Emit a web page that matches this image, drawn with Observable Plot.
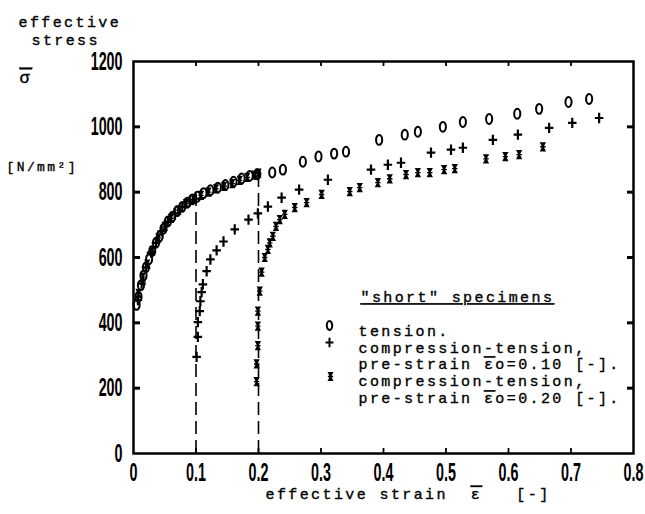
<!DOCTYPE html>
<html>
<head>
<meta charset="utf-8">
<script src="https://cdn.jsdelivr.net/npm/d3@7"></script>
<script src="https://cdn.jsdelivr.net/npm/@observablehq/plot@0.6"></script>
<style>
  html, body { margin: 0; padding: 0; background: #fff; }
  #chart svg { display: block; overflow: visible; }
  #chart svg g[aria-label="text"] text { letter-spacing: 2.4px; stroke: black; stroke-width: 0.35px; }
</style>
</head>
<body>
<div id="chart"></div>
<script>
// ---- tick values and labels ----
const xTickValues = [0, 0.1, 0.2, 0.3, 0.4, 0.5, 0.6, 0.7, 0.8];
const xTickLabels = ["0", "0.1", "0.2", "0.3", "0.4", "0.5", "0.6", "0.7", "0.8"];
const yTickValues = [0, 200, 400, 600, 800, 1000, 1200];
const yTickLabels = ["0", "200", "400", "600", "800", "1000", "1200"];

// ---- series: tension (circles) ----
const tensionStrain = [0.005,0.008,0.012,0.016,0.02,0.025,0.03,0.036,0.042,0.048,0.055,0.062,0.07,0.078,0.086,0.094,0.102,0.112,0.123,0.135,0.147,0.16,0.173,0.186,0.198,0.222,0.239,0.271,0.296,0.321,0.34,0.393,0.434,0.455,0.495,0.527,0.569,0.614,0.649,0.696,0.729];
const tensionStress = [455,480,515,545,570,595,620,645,665,688,710,725,742,755,768,778,786,797,806,814,822,832,842,850,855,860,869,893,909,918,924,960,976,985,1000,1015,1024,1040,1055,1076,1085];

// ---- series: compression-tension, pre-strain 0.10 (plus) ----
const pre10Strain = [0.007,0.013,0.02,0.028,0.036,0.045,0.055,0.066,0.078,0.09,0.1,
  0.101,0.103,0.103,0.106,0.107,0.109,0.111,0.117,0.123,0.133,0.144,0.162,0.184,0.199,0.215,0.237,0.265,0.311,0.38,0.407,0.428,0.476,0.508,0.527,0.575,0.615,0.665,0.702,0.745];
const pre10Stress = [470,520,570,615,645,680,710,735,755,772,780,
  296,357,402,436,466,494,518,558,594,622,649,686,716,735,756,783,808,838,869,884,890,921,930,936,960,976,997,1012,1027];

// ---- series: compression-tension, pre-strain 0.20 (asterisk) ----
const pre20Strain = [0.008,0.015,0.022,0.03,0.04,0.05,0.06,0.072,0.084,0.096,0.108,0.12,0.132,0.145,0.158,0.17,0.182,0.194,0.2,
  0.197,0.197,0.199,0.199,0.199,0.202,0.205,0.21,0.215,0.218,0.223,0.228,0.234,0.242,0.258,0.277,0.301,0.346,0.362,0.391,0.41,0.436,0.455,0.474,0.497,0.514,0.564,0.595,0.617,0.655];
const pre20Stress = [490,540,580,620,660,695,720,745,765,778,790,800,810,818,826,836,845,852,858,
  220,274,330,390,436,497,555,600,625,645,665,695,716,732,753,768,793,802,814,829,841,854,860,860,869,872,902,909,915,939];

// ---- dashed pre-strain markers ----
const dashStrain = [0.1, 0.2];
const dashTop = [770, 845];

// ---- legend texts ----
const legendTitle = "\"short\" specimens";
const legendLines = [
  "tension.",
  "compression-tension,",
  "pre-strain \u03B5\u0304o=0.10 [-].",
  "compression-tension,",
  "pre-strain \u03B5\u0304o=0.20 [-]."
];

const tension = tensionStrain.map((e, i) => ({e, s: tensionStress[i]}));
const pre10 = pre10Strain.map((e, i) => ({e, s: pre10Stress[i]}));
const pre20 = pre20Strain.map((e, i) => ({e, s: pre20Stress[i]}));
const dashes = dashStrain.map((e, i) => ({e, top: dashTop[i]}));

// custom symbols
const ovalSymbol = {draw(ctx, size) {
  const r = Math.sqrt(size / Math.PI), rx = 0.68 * r, ry = 1.1 * r, k = 0.5523;
  ctx.moveTo(0, -ry);
  ctx.bezierCurveTo(k * rx, -ry, rx, -k * ry, rx, 0);
  ctx.bezierCurveTo(rx, k * ry, k * rx, ry, 0, ry);
  ctx.bezierCurveTo(-k * rx, ry, -rx, k * ry, -rx, 0);
  ctx.bezierCurveTo(-rx, -k * ry, -k * rx, -ry, 0, -ry);
  ctx.closePath();
}};
const plusSymbol = {draw(ctx, size) {
  const r = Math.sqrt(size / Math.PI);
  ctx.moveTo(-0.95 * r, 0); ctx.lineTo(0.95 * r, 0);
  ctx.moveTo(0, -1.15 * r); ctx.lineTo(0, 1.15 * r);
}};
const starSymbol = {draw(ctx, size) {
  const r = Math.sqrt(size / Math.PI);
  ctx.moveTo(-0.75 * r, -1.1 * r); ctx.lineTo(0.75 * r, -1.1 * r); ctx.lineTo(0.18 * r, 0);
  ctx.lineTo(0.75 * r, 1.1 * r); ctx.lineTo(-0.75 * r, 1.1 * r); ctx.lineTo(-0.18 * r, 0); ctx.closePath();
  ctx.moveTo(-0.65 * r, -0.16 * r); ctx.lineTo(0.65 * r, -0.16 * r); ctx.lineTo(0.65 * r, 0.16 * r);
  ctx.lineTo(-0.65 * r, 0.16 * r); ctx.closePath();
}};

const W = 645, H = 514, ML = 133, MR = 12, MT = 61, MB = 61;
const PW = W - ML - MR, PH = H - MT - MB;
const mono = "'Liberation Mono', 'DejaVu Sans Mono', monospace";
const tickFont = "'Liberation Sans', Arial, sans-serif";
const fs = 15;

const innerX = xTickValues.slice(1, -1);
const innerY = yTickValues.slice(1, -1);

const txt = (s, o) => Plot.text([s], {text: d => d, fontFamily: mono, fontSize: fs, fill: "black", ...o});

const chart = Plot.plot({
  width: W, height: H,
  marginLeft: ML, marginRight: MR, marginTop: MT, marginBottom: MB,
  style: {background: "white", color: "black"},
  x: {domain: [0, 0.8]},
  y: {domain: [0, 1200]},
  marks: [
    // dashed pre-strain lines
    Plot.ruleX(dashes, {x: "e", y1: 0, y2: "top", stroke: "black", strokeWidth: 1.6, strokeDasharray: "13,6"}),
    // data
    Plot.dot(tension, {x: "e", y: "s", symbol: ovalSymbol, r: 4.5, fill: "none", stroke: "black", strokeWidth: 2}),
    Plot.dot(pre10, {x: "e", y: "s", symbol: plusSymbol, r: 4.5, fill: "none", stroke: "black", strokeWidth: 2.2}),
    Plot.dot(pre20, {x: "e", y: "s", symbol: starSymbol, r: 4.2, fill: "black", stroke: "none"}),
    // frame and inward ticks
    Plot.frame({stroke: "black", strokeWidth: 2.5}),
    Plot.tickY(innerY, {y: d => d, insetRight: PW - 7, stroke: "black", strokeWidth: 3}),
    Plot.tickY(innerY, {y: d => d, insetLeft: PW - 6, stroke: "black", strokeWidth: 3}),
    Plot.tickX(innerX, {x: d => d, insetTop: PH - 5, stroke: "black", strokeWidth: 1.8}),
    Plot.tickX(innerX, {x: d => d, insetBottom: PH - 5, stroke: "black", strokeWidth: 1.8}),
    // axes (labels only)
    Plot.axisY({ticks: yTickValues, tickSize: 0, tickPadding: 11, label: null,
      tickFormat: d => yTickLabels[yTickValues.indexOf(d)], fontSize: 26, fontWeight: "bold", fontFamily: tickFont}),
    Plot.axisX({ticks: xTickValues, tickSize: 0, tickPadding: 9, label: null,
      tickFormat: d => xTickLabels[xTickValues.indexOf(d)], fontSize: 26, fontWeight: "bold", fontFamily: tickFont}),
    // y label block
    txt("effective", {frameAnchor: "top-left", dx: 18 - ML, dy: 16 - MT, textAnchor: "start"}),
    txt("stress", {frameAnchor: "top-left", dx: 31 - ML, dy: 34 - MT, textAnchor: "start"}),
    txt("\u03C3\u0304", {frameAnchor: "top-left", dx: 19 - ML, dy: 70 - MT, textAnchor: "start", fontSize: 17}),
    txt("[N/mm\u00B2]", {frameAnchor: "top-left", dx: 6 - ML, dy: 161 - MT, textAnchor: "start", fontSize: 13}),
    // x label
    txt("effective strain  \u03B5\u0304   [-]", {frameAnchor: "bottom-left", dx: 265 - ML, dy: 498 - (H - MB), textAnchor: "start"}),
    // legend
    txt(legendTitle, {frameAnchor: "top-left", dx: 360 - ML, dy: 291 - MT, textAnchor: "start"}),
    ...legendLines.map((s, i) => txt(s, {frameAnchor: "top-left", dx: 358 - ML, dy: [325, 342, 358, 375, 392][i] - MT, textAnchor: "start"})),
    Plot.dot([0], {frameAnchor: "top-left", dx: 329 - ML, dy: 325 - MT, symbol: ovalSymbol, r: 4, fill: "none", stroke: "black", strokeWidth: 2}),
    Plot.dot([0], {frameAnchor: "top-left", dx: 329 - ML, dy: 342 - MT, symbol: plusSymbol, r: 4.2, fill: "none", stroke: "black", strokeWidth: 2}),
    Plot.dot([0], {frameAnchor: "top-left", dx: 330 - ML, dy: 376 - MT, symbol: starSymbol, r: 4, fill: "black", stroke: "none"})
  ]
});

// condense tick labels horizontally
for (const t of chart.querySelectorAll('[aria-label="x-axis tick label"] text, [aria-label="y-axis tick label"] text')) {
  let tr = t.getAttribute("transform");
  if (!tr) {
    const x = t.getAttribute("x") || 0, y = t.getAttribute("y") || 0;
    t.removeAttribute("x"); t.removeAttribute("y");
    tr = `translate(${x},${y})`;
  }
  t.setAttribute("transform", tr + " scale(0.55,1)");
}
// underline legend title; draw overbars as real overlines
const NS = "http://www.w3.org/2000/svg";
for (const t of chart.querySelectorAll("text")) {
  const s = t.textContent;
  if (s === legendTitle) t.style.textDecoration = "underline";
  if (s.includes("\u0304")) {
    const parts = s.split(/(.\u0304)/);
    while (t.firstChild) t.removeChild(t.firstChild);
    for (const p of parts) {
      if (!p) continue;
      const ts = document.createElementNS(NS, "tspan");
      if (p.endsWith("\u0304")) { ts.textContent = p[0]; ts.style.textDecoration = "overline"; }
      else ts.textContent = p;
      t.appendChild(ts);
    }
  }
}
document.getElementById("chart").appendChild(chart);
</script>
</body>
</html>
